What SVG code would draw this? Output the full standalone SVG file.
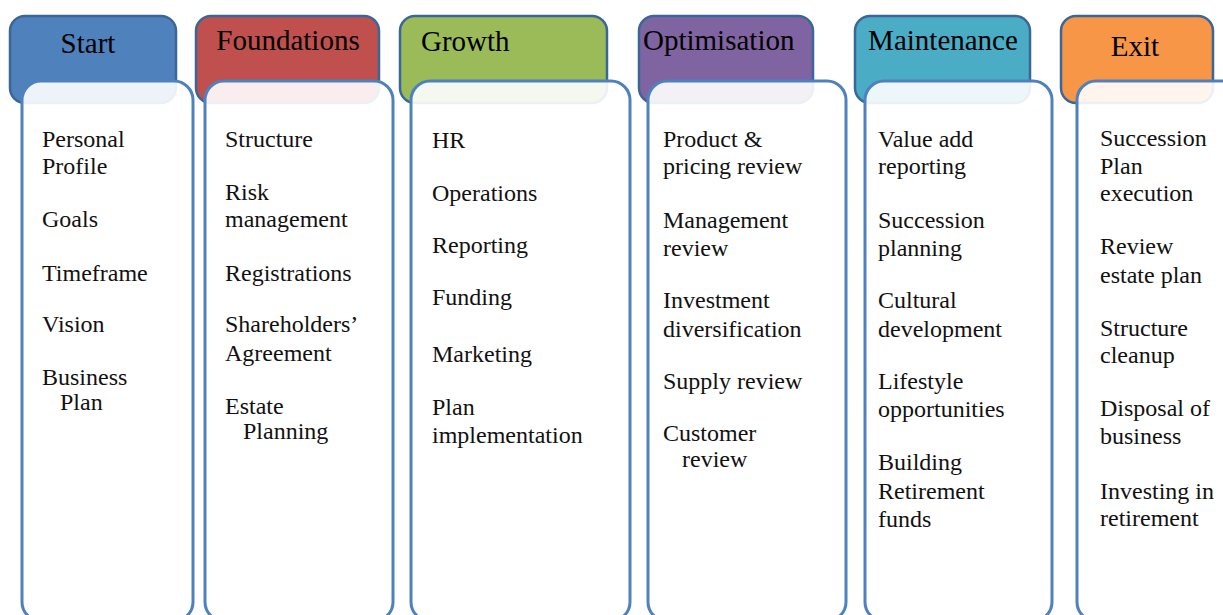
<svg xmlns="http://www.w3.org/2000/svg" width="1223" height="615" viewBox="0 0 1223 615">
<style>
.hdr{stroke:#3A6699;stroke-width:2.5}
.body{fill:#FFFFFF;fill-opacity:0.9;stroke:#4F81BD;stroke-width:3}
.ht{font-family:"Liberation Serif","Times New Roman",serif;font-size:29px;fill:#000}
.bt{font-family:"Liberation Serif","Times New Roman",serif;font-size:24px;fill:#111}
</style>
<rect width="1223" height="615" fill="#FFFFFF"/>
<g id="start">
<rect class="hdr" x="10" y="16" width="166" height="87" rx="15" fill="#4F81BD"/>
<rect class="body" x="22" y="81" width="171" height="540" rx="19"/>
<text class="ht" x="88" y="53" text-anchor="middle">Start</text>
<text class="bt" x="42" y="147">Personal</text>
<text class="bt" x="42" y="174">Profile</text>
<text class="bt" x="42" y="227">Goals</text>
<text class="bt" x="42" y="281">Timeframe</text>
<text class="bt" x="42" y="332">Vision</text>
<text class="bt" x="42" y="385">Business</text>
<text class="bt" x="60" y="410">Plan</text>
</g>
<g id="foundations">
<rect class="hdr" x="196" y="16" width="183" height="87" rx="15" fill="#C0504D"/>
<rect class="body" x="205" y="81" width="188" height="540" rx="19"/>
<text class="ht" x="288" y="50" text-anchor="middle">Foundations</text>
<text class="bt" x="225" y="147">Structure</text>
<text class="bt" x="225" y="200">Risk</text>
<text class="bt" x="225" y="227">management</text>
<text class="bt" x="225" y="281">Registrations</text>
<text class="bt" x="225" y="332">Shareholders’</text>
<text class="bt" x="225" y="361">Agreement</text>
<text class="bt" x="225" y="414">Estate</text>
<text class="bt" x="243" y="439">Planning</text>
</g>
<g id="growth">
<rect class="hdr" x="400" y="16" width="207" height="87" rx="15" fill="#9BBB59"/>
<rect class="body" x="411" y="81" width="219" height="540" rx="19"/>
<text class="ht" x="421" y="51">Growth</text>
<text class="bt" x="432" y="148">HR</text>
<text class="bt" x="432" y="201">Operations</text>
<text class="bt" x="432" y="253">Reporting</text>
<text class="bt" x="432" y="305">Funding</text>
<text class="bt" x="432" y="362">Marketing</text>
<text class="bt" x="432" y="415">Plan</text>
<text class="bt" x="432" y="443">implementation</text>
</g>
<g id="optimisation">
<rect class="hdr" x="639" y="16" width="174" height="87" rx="15" fill="#8064A2"/>
<rect class="body" x="648" y="81" width="198" height="540" rx="19"/>
<text class="ht" x="643" y="50">Optimisation</text>
<text class="bt" x="663" y="147">Product &amp;</text>
<text class="bt" x="663" y="174">pricing review</text>
<text class="bt" x="663" y="228">Management</text>
<text class="bt" x="663" y="256">review</text>
<text class="bt" x="663" y="308">Investment</text>
<text class="bt" x="663" y="337">diversification</text>
<text class="bt" x="663" y="389">Supply review</text>
<text class="bt" x="663" y="441">Customer</text>
<text class="bt" x="682" y="467">review</text>
</g>
<g id="maintenance">
<rect class="hdr" x="855" y="16" width="175" height="87" rx="15" fill="#4BACC6"/>
<rect class="body" x="865" y="81" width="187" height="540" rx="19"/>
<text class="ht" x="943" y="50" text-anchor="middle">Maintenance</text>
<text class="bt" x="878" y="147">Value add</text>
<text class="bt" x="878" y="174">reporting</text>
<text class="bt" x="878" y="228">Succession</text>
<text class="bt" x="878" y="256">planning</text>
<text class="bt" x="878" y="308">Cultural</text>
<text class="bt" x="878" y="337">development</text>
<text class="bt" x="878" y="389">Lifestyle</text>
<text class="bt" x="878" y="417">opportunities</text>
<text class="bt" x="878" y="470">Building</text>
<text class="bt" x="878" y="499">Retirement</text>
<text class="bt" x="878" y="527">funds</text>
</g>
<g id="exit">
<rect class="hdr" x="1061" y="16" width="152" height="87" rx="15" fill="#F79646"/>
<rect class="body" x="1077" y="81" width="170" height="540" rx="19"/>
<text class="ht" x="1135" y="56" text-anchor="middle">Exit</text>
<text class="bt" x="1100" y="146">Succession</text>
<text class="bt" x="1100" y="174">Plan</text>
<text class="bt" x="1100" y="201">execution</text>
<text class="bt" x="1100" y="254">Review</text>
<text class="bt" x="1100" y="283">estate plan</text>
<text class="bt" x="1100" y="336">Structure</text>
<text class="bt" x="1100" y="363">cleanup</text>
<text class="bt" x="1100" y="416">Disposal of</text>
<text class="bt" x="1100" y="444">business</text>
<text class="bt" x="1100" y="499">Investing in</text>
<text class="bt" x="1100" y="526">retirement</text>
</g>
</svg>
